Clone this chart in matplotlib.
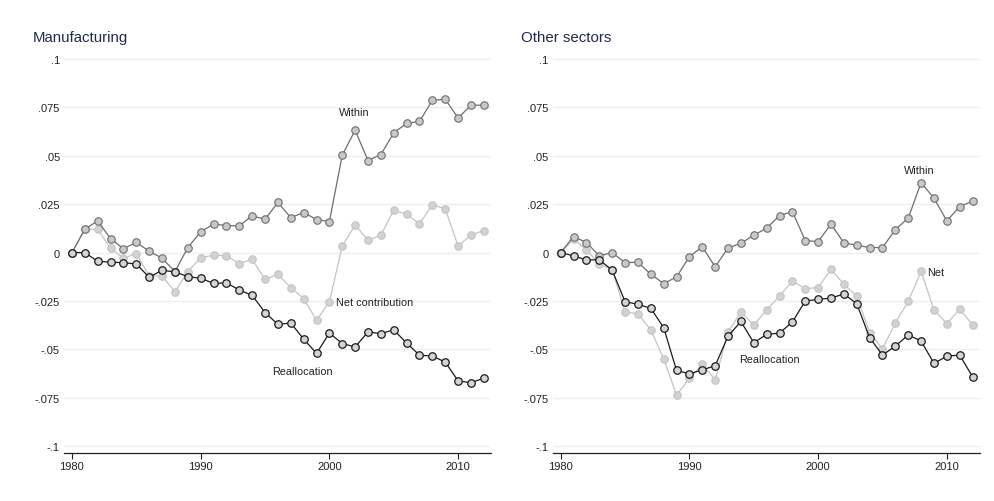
import matplotlib.pyplot as plt
import numpy as np

years = np.arange(1980, 2013)

# Manufacturing
mfg_within = [0, 0.0121, 0.0164, 0.0072, 0.0020, 0.0053, 0.0007, -0.0029, -0.0098, 0.0026,
              0.0107, 0.0147, 0.0140, 0.0138, 0.0190, 0.0172, 0.0259, 0.0181, 0.0207, 0.0171,
              0.0160, 0.0504, 0.0632, 0.0476, 0.0507, 0.0619, 0.0668, 0.0678, 0.0787, 0.0793,
              0.0695, 0.0762, 0.0762]
mfg_net = [0, 0.0120, 0.0120, 0.0022, -0.0029, -0.0005, -0.0120, -0.0122, -0.0202, -0.0098,
           -0.0026, -0.0014, -0.0016, -0.0057, -0.0035, -0.0138, -0.0112, -0.0181, -0.0238, -0.0350,
           -0.0255, 0.0034, 0.0143, 0.0064, 0.0090, 0.0219, 0.0198, 0.0148, 0.0247, 0.0226,
           0.0034, 0.0091, 0.0114]
mfg_realloc = [0, 0, -0.0045, -0.0050, -0.0052, -0.0059, -0.0128, -0.0091, -0.0100, -0.0124,
               -0.0133, -0.0159, -0.0157, -0.0193, -0.0221, -0.0310, -0.0371, -0.0364, -0.0447, -0.0521,
               -0.0416, -0.0470, -0.0488, -0.0410, -0.0419, -0.0399, -0.0468, -0.0530, -0.0535, -0.0566,
               -0.0663, -0.0673, -0.0649]

# Other sectors
oth_within = [0, 0.0083, 0.0052, -0.0017, 0, -0.0052, -0.0050, -0.0112, -0.0160, -0.0126,
              -0.0021, 0.0030, -0.0074, 0.0024, 0.0048, 0.0090, 0.0126, 0.0191, 0.0212, 0.0062,
              0.0057, 0.0147, 0.0050, 0.0038, 0.0026, 0.0026, 0.0119, 0.0178, 0.0362, 0.0281,
              0.0164, 0.0238, 0.0266]
oth_net = [0, 0.0069, 0.0014, -0.0059, -0.0088, -0.0307, -0.0316, -0.0400, -0.0549, -0.0737,
           -0.0650, -0.0578, -0.0658, -0.0410, -0.0307, -0.0374, -0.0298, -0.0224, -0.0148, -0.0186,
           -0.0181, -0.0086, -0.0164, -0.0224, -0.0414, -0.0497, -0.0364, -0.0252, -0.0097, -0.0297,
           -0.0367, -0.0293, -0.0373]
oth_realloc = [0, -0.0017, -0.0038, -0.0037, -0.0091, -0.0254, -0.0267, -0.0288, -0.0388, -0.0609,
               -0.0627, -0.0606, -0.0585, -0.0432, -0.0356, -0.0466, -0.0423, -0.0416, -0.0359, -0.0250,
               -0.0242, -0.0235, -0.0214, -0.0264, -0.0440, -0.0530, -0.0483, -0.0426, -0.0457, -0.0573,
               -0.0535, -0.0530, -0.0642]

yticks = [0.1, 0.075, 0.05, 0.025, 0, -0.025, -0.05, -0.075, -0.1]
ytick_labels = ['.1', '.075', '.05', '.025', '0', '-.025', '-.05', '-.075', '-.1']
xticks = [1980, 1990, 2000, 2010]

plt.rcParams['font.family'] = ['Liberation Sans', 'DejaVu Sans']

fig = plt.figure(figsize=(9.95, 5.02), dpi=100)
ax1 = fig.add_axes([0.0643, 0.0956, 0.4291, 0.8008])
ax2 = fig.add_axes([0.5555, 0.0956, 0.4291, 0.8008])

panels = [
    (ax1, mfg_within, mfg_net, mfg_realloc, 'Manufacturing', 33),
    (ax2, oth_within, oth_net, oth_realloc, 'Other sectors', 521),
]

for ax, within, net, realloc, title, tx in panels:
    ax.plot(years, net, color='#c4c4c4', lw=0.9, marker='o', ms=5.4,
            mfc='#d2d2d2', mec='#c4c4c4', mew=0.8, zorder=3)
    ax.plot(years, within, color='#6e6e6e', lw=0.9, marker='o', ms=5.4,
            mfc='#c8c8c8', mec='#6e6e6e', mew=0.8, zorder=4)
    ax.plot(years, realloc, color='#1a1a1a', lw=0.9, marker='o', ms=5.4,
            mfc='#d4d4d4', mec='#1a1a1a', mew=0.9, zorder=5)

    ax.set_xlim(1979.38, 2012.55)
    ax.set_ylim(-0.1036, 0.1042)
    ax.set_yticks(yticks)
    ax.set_yticklabels(ytick_labels)
    ax.set_xticks(xticks)
    ax.grid(axis='y', color='#e8f0f1', lw=1.0, zorder=0)
    for s in ['left', 'right', 'top']:
        ax.spines[s].set_visible(False)
    ax.spines['bottom'].set_color('#222222')
    ax.spines['bottom'].set_linewidth(0.9)
    ax.tick_params(axis='y', length=0, pad=3, labelsize=8, labelcolor='#222222')
    ax.tick_params(axis='x', length=4, width=0.8, color='#222222', pad=2,
                   labelsize=8, labelcolor='#222222')
    fig.text(tx / 995, 1 - 38 / 502, title, fontsize=10.8, color='#1f2b4d',
             va='center', ha='left')

kw = dict(fontsize=7.8, color='#222222', va='center')
ax1.text(2001.9, 0.0727, 'Within', ha='center', **kw)
ax1.text(2000.55, -0.0256, 'Net contribution', ha='left', **kw)
ax1.text(1997.9, -0.0613, 'Reallocation', ha='center', **kw)
ax2.text(2007.86, 0.0426, 'Within', ha='center', **kw)
ax2.text(2008.5, -0.0098, 'Net', ha='left', **kw)
ax2.text(1996.2, -0.0549, 'Reallocation', ha='center', **kw)

fig.savefig('out.png', dpi=100)
